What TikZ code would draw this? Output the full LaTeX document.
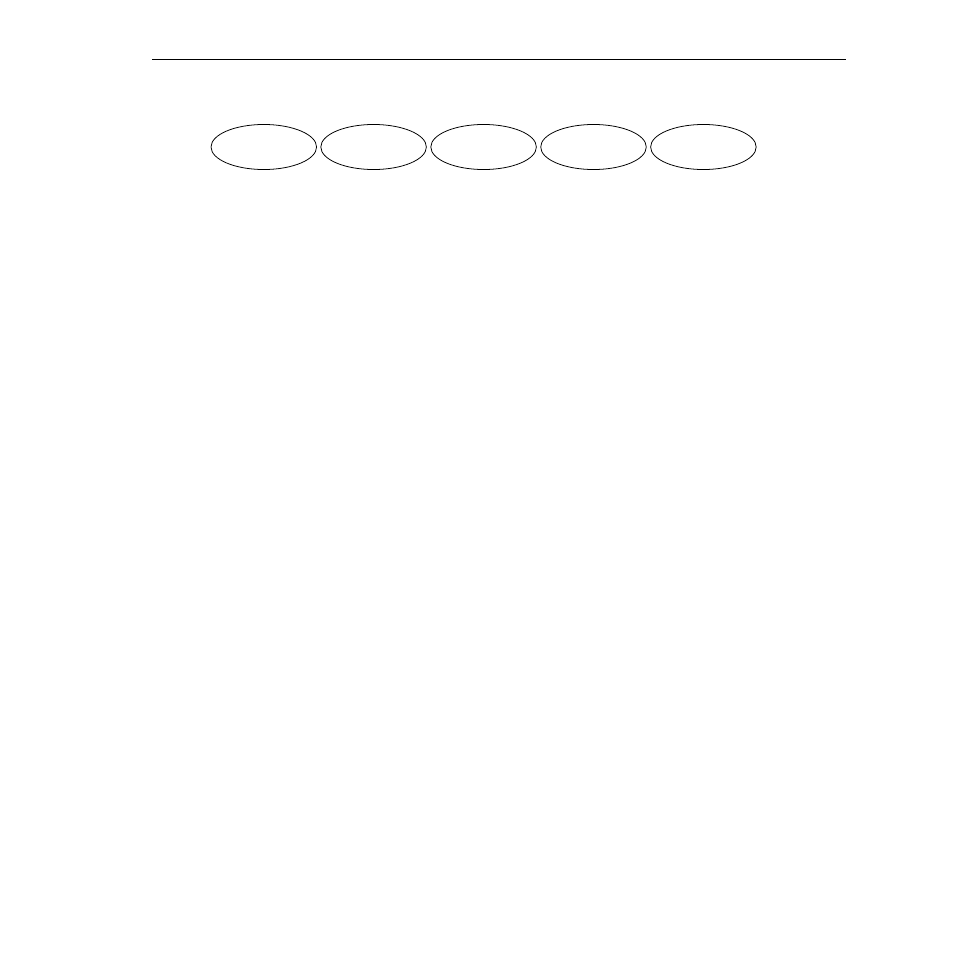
\documentclass[tikz,border=0pt]{standalone}
\usetikzlibrary{shapes.geometric}
\begin{document}
\begin{tikzpicture}[x=0.6415pt,y=-0.6415pt,
  oval/.style={draw=black,ellipse,line width=0.5pt,minimum width=67.7pt,minimum height=28.9pt,inner sep=0pt},
  rule/.style={draw=black,line width=0.7pt}]
\useasboundingbox[fill=white] (0,0) rectangle (954,954);
\coordinate (ra) at (152,59.5);
\coordinate (rb) at (846,59.5);
\draw[rule] (ra) -- (rb);
\node[oval] (e1) at (263.8,147) {};
\node[oval] (e2) at (373.6,147) {};
\node[oval] (e3) at (483.6,147) {};
\node[oval] (e4) at (593.5,147) {};
\node[oval] (e5) at (703.4,147) {};
\end{tikzpicture}
\end{document}
